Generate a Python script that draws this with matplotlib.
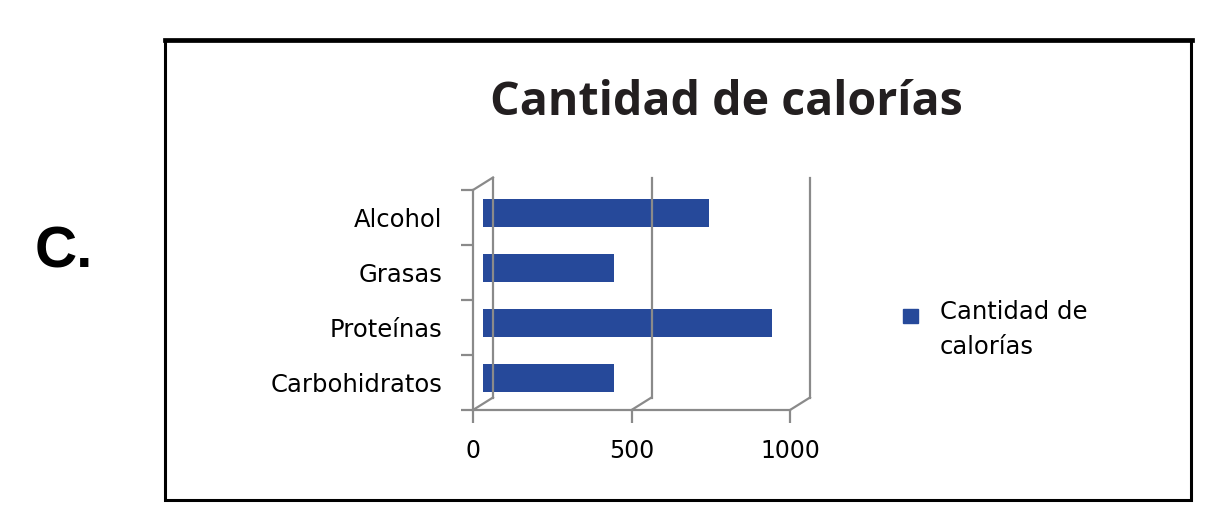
import matplotlib
matplotlib.use("Agg")
import matplotlib.pyplot as plt
import matplotlib.transforms as mtransforms
from matplotlib.patches import Rectangle
from matplotlib.lines import Line2D

categories = ["Carbohidratos", "Proteínas", "Grasas", "Alcohol"]
calorias = [412, 912, 412, 714]
serie = "Cantidad de\ncalorías"
titulo = "Cantidad de calorías"
xticks = [0, 500, 1000]

W, H = 1227, 512
bar_color = "#26499a"
grid_color = "#8a8a8a"
label_font = ["DejaVu Sans"]
title_font = ["Open Sans", "DejaVu Sans"]

fig = plt.figure(figsize=(W / 100, H / 100), dpi=100)


def fx(px):
    return px / W


def fy(py):
    return 1 - py / H


# outer frame
fig.add_artist(Rectangle((fx(165), fy(500)), fx(1191) - fx(165), fy(40) - fy(500),
                         fill=False, ec="black", lw=2.2, transform=fig.transFigure))
fig.add_artist(Line2D([fx(165), fx(1192)], [fy(40), fy(40)], color="black", lw=3.4,
                      transform=fig.transFigure))

fig.text(fx(35), fy(267), "C.", fontsize=42, fontweight="bold",
         family=["Liberation Sans", "DejaVu Sans"], va="baseline", ha="left")

fig.text(fx(726), fy(115), titulo, fontsize=33.5, fontweight="bold", color="#231f20",
         family=title_font, ha="center", va="baseline")

ax = fig.add_axes([fx(473), fy(410), fx(790) - fx(473), (410 - 190) / H])
ax.set_xlim(0, 1000)
ax.set_ylim(-0.5, len(categories) - 0.5)
ax.patch.set_visible(False)

# 3d depth offsets (back wall and bar mid-depth)
back = ax.transData + mtransforms.ScaledTranslation(0.20, 0.125, fig.dpi_scale_trans)
mid = ax.transData + mtransforms.ScaledTranslation(0.10, 0.045, fig.dpi_scale_trans)
dx = 20 / (790 - 473) * 1000
dy = 12.5 / 55

ytop = len(categories) - 0.5
for v in xticks:
    ax.plot([v, v], [-0.5, ytop], color=grid_color, lw=1.6, transform=back, clip_on=False)
    ax.plot([v, v + dx], [-0.5, -0.5 + dy], color=grid_color, lw=1.6, clip_on=False)
ax.plot([0, dx], [ytop, ytop + dy], color=grid_color, lw=1.6, clip_on=False)

pos = list(range(len(categories)))
ax.barh(pos, calorias, height=0.5, color=bar_color, transform=mid, clip_on=False)

for s in ["top", "right"]:
    ax.spines[s].set_visible(False)
for s in ["left", "bottom"]:
    ax.spines[s].set_color(grid_color)
    ax.spines[s].set_linewidth(1.6)

ax.set_xticks(xticks)
ax.set_xticklabels([str(v) for v in xticks], family=label_font, fontsize=17)
ax.tick_params(axis="x", length=9, width=1.6, color=grid_color, pad=12)

ax.set_yticks(pos)
ax.set_yticklabels(categories, family=label_font, fontsize=17.5)
ax.set_yticks([p - 0.5 for p in pos] + [ytop], minor=True)
ax.tick_params(axis="y", which="major", length=0, pad=22)
ax.tick_params(axis="y", which="minor", length=9, width=1.6, color=grid_color)

# legend
fig.add_artist(Rectangle((fx(903), fy(323)), fx(918) - fx(903), fy(309) - fy(323),
                         color=bar_color, transform=fig.transFigure))
fig.text(fx(940), fy(300), serie, fontsize=17.5, family=label_font, va="top", ha="left",
         linespacing=1.6)

fig.savefig("out.png", dpi=100)
